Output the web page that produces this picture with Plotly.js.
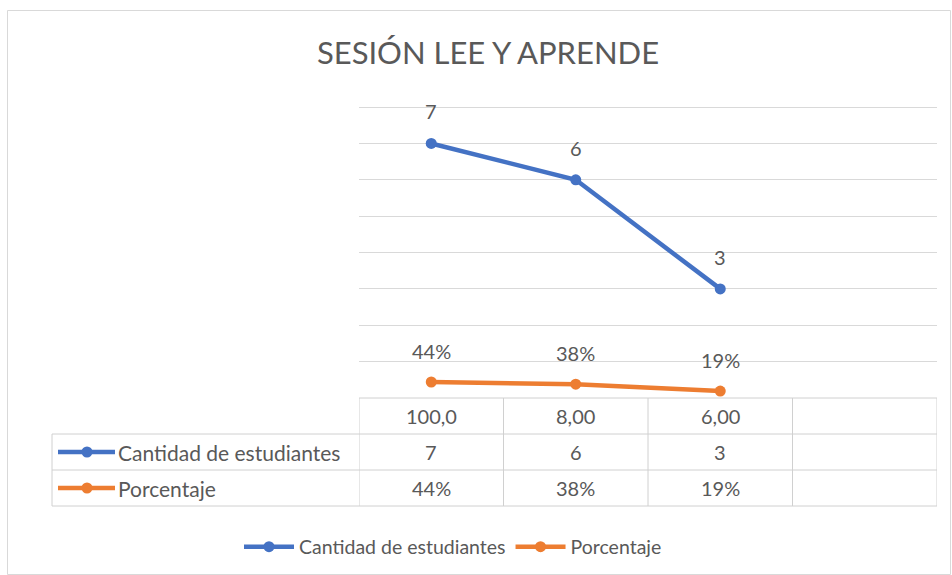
<!DOCTYPE html>
<html>
<head>
<meta charset="utf-8">
<script src="https://cdn.plot.ly/plotly-3.0.1.min.js"></script>
<style>html,body{margin:0;padding:0;background:#fff;}#chart{width:952px;height:575px;}</style>
</head>
<body>
<div id="chart"></div>
<script>
// ---- data ----
const chartTitle = 'SESIÓN LEE Y APRENDE';
const categories = ['100,0', '8,00', '6,00', ''];
const seriesNames = ['Cantidad de estudiantes', 'Porcentaje'];
const cantidad = [7, 6, 3];
const porcentaje = [0.44, 0.38, 0.19];
const cantidadLabels = ['7', '6', '3'];
const porcentajeLabels = ['44%', '38%', '19%'];
const colors = ['#4472C4', '#ED7D31'];

// ---- layout helpers ----
const W = 952, H = 575;
const L = 359, R = 937, T = 106, B = 398;
const px = p => (p - L) / (R - L);
const py = p => (B - p) / (B - T);
const txt = '#595959';
const grid = '#d9d9d9';
const font = 'Lato, "Open Sans", sans-serif';

const xIdx = categories.map((c, i) => i);
const rowsY = [416, 452, 488];
const lines = [398, 434, 470, 506];

const traces = [
  {x: xIdx.slice(0, cantidad.length), y: cantidad, name: seriesNames[0], type: 'scatter', mode: 'lines+markers',
   line: {color: colors[0], width: 4.5}, marker: {color: colors[0], size: 11}},
  {x: xIdx.slice(0, porcentaje.length), y: porcentaje, name: seriesNames[1], type: 'scatter', mode: 'lines+markers',
   line: {color: colors[1], width: 4.5}, marker: {color: colors[1], size: 11}}
];

const annotations = [];
const shapes = [];
const cellFont = {family: font, size: 20, color: txt};

// data labels
cantidad.forEach((v, i) => annotations.push({x: i, y: v, xref: 'x', yref: 'y', text: cantidadLabels[i], showarrow: false,
  yanchor: 'middle', yshift: 32, font: cellFont}));
porcentaje.forEach((v, i) => annotations.push({x: i, y: v, xref: 'x', yref: 'y', text: porcentajeLabels[i], showarrow: false,
  yanchor: 'middle', yshift: 31, font: cellFont}));

// table cells
categories.forEach((c, i) => annotations.push({x: i, y: py(rowsY[0]), xref: 'x', yref: 'paper', text: c, showarrow: false,
  yanchor: 'middle', font: cellFont}));
cantidadLabels.forEach((c, i) => annotations.push({x: i, y: py(rowsY[1]), xref: 'x', yref: 'paper', text: c, showarrow: false,
  yanchor: 'middle', font: cellFont}));
porcentajeLabels.forEach((c, i) => annotations.push({x: i, y: py(rowsY[2]), xref: 'x', yref: 'paper', text: c, showarrow: false,
  yanchor: 'middle', font: cellFont}));

// row headers with keys
seriesNames.forEach((n, k) => {
  const yc = rowsY[k + 1];
  annotations.push({x: px(116), y: py(yc), xref: 'paper', yref: 'paper', xanchor: 'left', yanchor: 'middle', text: n, showarrow: false,
    font: {family: font, size: 21, color: txt}});
  shapes.push({type: 'line', xref: 'paper', yref: 'paper', x0: px(58), x1: px(115), y0: py(yc), y1: py(yc),
    line: {color: colors[k], width: 4.5}});
  shapes.push({type: 'circle', xref: 'paper', yref: 'paper', x0: px(81.5), x1: px(92.5), y0: py(yc - 5.5), y1: py(yc + 5.5),
    fillcolor: colors[k], line: {color: colors[k], width: 0}});
});

// table grid lines
const border = '#d0d0d0';
shapes.push({type: 'line', xref: 'paper', yref: 'paper', x0: 0, x1: 1, y0: py(lines[0]), y1: py(lines[0]), line: {color: border, width: 1}});
lines.slice(1).forEach(yy => shapes.push({type: 'line', xref: 'paper', yref: 'paper', x0: px(52), x1: 1, y0: py(yy), y1: py(yy),
  line: {color: border, width: 1}}));
shapes.push({type: 'line', xref: 'paper', yref: 'paper', x0: px(52), x1: px(52), y0: py(lines[1]), y1: py(lines[3]), line: {color: border, width: 1}});
[-0.5, 0.5, 1.5, 2.5, 3.5].forEach(xv => shapes.push({type: 'line', xref: 'x', yref: 'paper', x0: xv, x1: xv,
  y0: py(lines[0]), y1: py(lines[3]), line: {color: border, width: 1}}));

// outer chart border
shapes.push({type: 'rect', xref: 'paper', yref: 'paper', x0: px(7.5), x1: px(950.5), y0: py(10.5), y1: py(574.5),
  line: {color: '#d9d9d9', width: 1}, fillcolor: 'rgba(0,0,0,0)'});

const layout = {
  width: W, height: H,
  margin: {l: L, r: W - R, t: T, b: H - B, pad: 0},
  paper_bgcolor: '#ffffff', plot_bgcolor: '#ffffff',
  title: {text: chartTitle, x: 488 / W, xanchor: 'center', y: 1 - 53 / H, yanchor: 'middle',
    font: {family: font, size: 31, color: txt}},
  xaxis: {range: [-0.5, 3.5], showticklabels: false, showgrid: false, zeroline: false, showline: false, fixedrange: true},
  yaxis: {range: [0, 8.03], dtick: 1, showticklabels: false, showgrid: true, gridcolor: grid, gridwidth: 1,
    zeroline: false, showline: false, fixedrange: true},
  showlegend: true,
  legend: {orientation: 'h', xref: 'container', yref: 'container', x: 453 / W, xanchor: 'center', y: 1 - 547 / H, yanchor: 'middle',
    font: {family: font, size: 19.5, color: txt}, itemwidth: 50, bgcolor: 'rgba(0,0,0,0)'},
  annotations: annotations,
  shapes: shapes
};

Plotly.newPlot('chart', traces, layout, {displayModeBar: false, staticPlot: true});
</script>
</body>
</html>
